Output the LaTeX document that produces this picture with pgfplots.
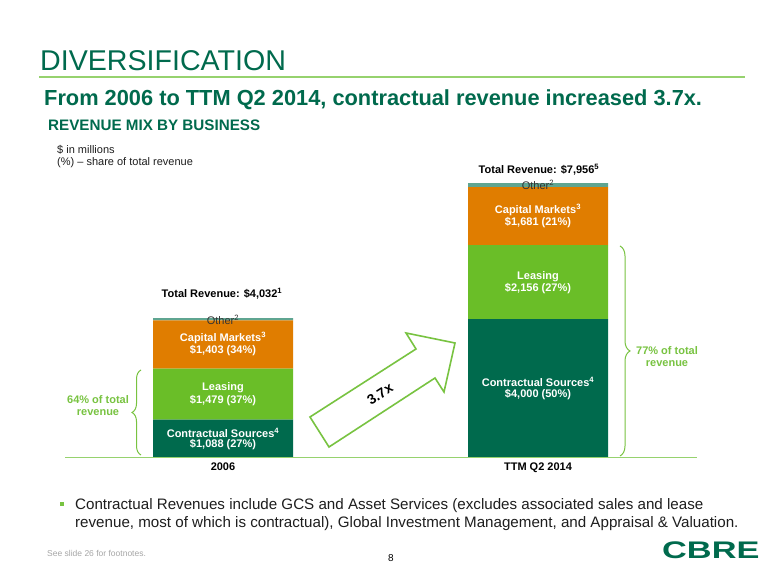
\documentclass[border=0pt]{standalone}
\usepackage{pgfplots}
\pgfplotsset{compat=1.18}
\usepackage{fontspec}
\setmainfont{Liberation Sans}
\usetikzlibrary{decorations.pathreplacing}
\definecolor{cbgreen}{RGB}{0,106,77}
\definecolor{leasegreen}{RGB}{106,190,40}
\definecolor{cmorange}{RGB}{224,125,0}
\definecolor{otherteal}{RGB}{95,165,145}
\definecolor{lightgreen}{RGB}{120,195,65}
\definecolor{linegreen}{RGB}{150,210,110}
\definecolor{bodytext}{RGB}{30,30,30}
\newcommand{\fs}[1]{\fontsize{#1}{#1}\selectfont}
\begin{document}
\begin{tikzpicture}
\path[use as bounding box, fill=white] (0,0) rectangle (780pt,585pt);
\begin{axis}[at={(0pt,128pt)}, anchor=south west, scale only axis,
  width=780pt, height=275.5pt, xmin=0, xmax=780, ymin=0, ymax=8000,
  enlargelimits=false, ybar stacked, bar width=140,
  axis line style={draw=none}, ytick=\empty,
  xtick={223,538}, xticklabels={2006,TTM Q2 2014}, major tick length=0pt,
  xticklabel style={font=\fs{11}\bfseries, yshift=-2pt},
  clip=false]
\addplot[fill=cbgreen, draw=none] coordinates {(223,1088) (538,4000)};
\addplot[fill=leasegreen, draw=none] coordinates {(223,1479) (538,2156)};
\addplot[fill=cmorange, draw=none] coordinates {(223,1403) (538,1681)};
\addplot[fill=otherteal, draw=none] coordinates {(223,62) (538,119)};
\end{axis}
\begin{scope}[x=1pt,y=-1pt,yshift=585pt]
% title
\node[anchor=west, inner sep=0, text=cbgreen, font=\fs{28.6}] at (40,61) {DIVERSIFICATION};
\draw[linegreen, line width=1.2pt] (39,77) -- (745,77);
\node[anchor=west, inner sep=0, text=cbgreen, font=\fs{21.8}\bfseries] at (44,100) {From 2006 to TTM Q2 2014, contractual revenue increased 3.7x.};
\node[anchor=west, inner sep=0, text=cbgreen, font=\fs{15.2}\bfseries] at (48,125) {REVENUE MIX BY BUSINESS};
\node[anchor=west, inner sep=0, text=bodytext, font=\fs{11}] at (57,150) {\$ in millions};
\node[anchor=west, inner sep=0, text=bodytext, font=\fs{11}] at (57,163) {(\%) -- share of total revenue};
% baseline
\draw[linegreen, line width=0.9pt] (65,457) -- (697,457);
% totals
\node[inner sep=0, font=\fs{11}\bfseries] at (222,294) {Total Revenue: \$4,032\textsuperscript{1}};
\node[inner sep=0, font=\fs{11}\bfseries] at (539,170) {Total Revenue: \$7,956\textsuperscript{5}};
\node[inner sep=0, font=\fs{11}, text=black!80] at (223,320) {Other\textsuperscript{2}};
\node[inner sep=0, font=\fs{11}, text=black!80] at (538,185) {Other\textsuperscript{2}};
% bar labels
\begin{scope}[every node/.style={inner sep=0, text=white, font=\fs{11}\bfseries}]
\node at (223,338) {Capital Markets\textsuperscript{3}};
\node at (223,351) {\$1,403 (34\%)};
\node at (223,388) {Leasing};
\node at (223,401) {\$1,479 (37\%)};
\node at (223,433) {Contractual Sources\textsuperscript{4}};
\node at (223,445) {\$1,088 (27\%)};
\node at (538,210) {Capital Markets\textsuperscript{3}};
\node at (538,223) {\$1,681 (21\%)};
\node at (538,277) {Leasing};
\node at (538,289) {\$2,156 (27\%)};
\node at (538,382) {Contractual Sources\textsuperscript{4}};
\node at (538,395) {\$4,000 (50\%)};
\end{scope}
% braces
\draw[lightgreen, line width=1pt, decorate, decoration={brace, amplitude=9pt}] (141,455) -- (141,370);
\draw[lightgreen, line width=1pt, decorate, decoration={brace, amplitude=10pt}] (620,246) -- (620,456);
\node[inner sep=0, text=lightgreen, font=\fs{11}\bfseries, align=center] at (98,406) {64\% of total\\[1pt]revenue};
\node[inner sep=0, text=lightgreen, font=\fs{11}\bfseries, align=center] at (667,357) {77\% of total\\[1pt]revenue};
% arrow
\draw[lightgreen, line width=1.6pt, fill=white, line join=miter] (329,447) -- (310,417) -- (416,349) -- (406,333) -- (455,343) -- (444,392) -- (435,378) -- cycle;
\node[inner sep=0, rotate=33, font=\fs{14}\bfseries] at (380,394) {3.7x};
% bullet
\fill[lightgreen] (60,502) rectangle (64,506);
\node[anchor=west, inner sep=0, text=bodytext, font=\fs{15.15}] at (75,506) {Contractual Revenues include GCS and Asset Services (excludes associated sales and lease};
\node[anchor=west, inner sep=0, text=bodytext, font=\fs{15.15}] at (75,524) {revenue, most of which is contractual), Global Investment Management, and Appraisal \& Valuation.};
% footer
\node[anchor=west, inner sep=0, text=black!35, font=\fs{8.5}] at (47,553) {See slide 26 for footnotes.};
\node[inner sep=0, font=\fs{10}] at (391,558) {8};
\node[anchor=west, inner sep=0, text=cbgreen, font=\fs{24}\bfseries] at (662,550) {\scalebox{1.43}[1]{CBRE}};
\end{scope}
\end{tikzpicture}
\end{document}
